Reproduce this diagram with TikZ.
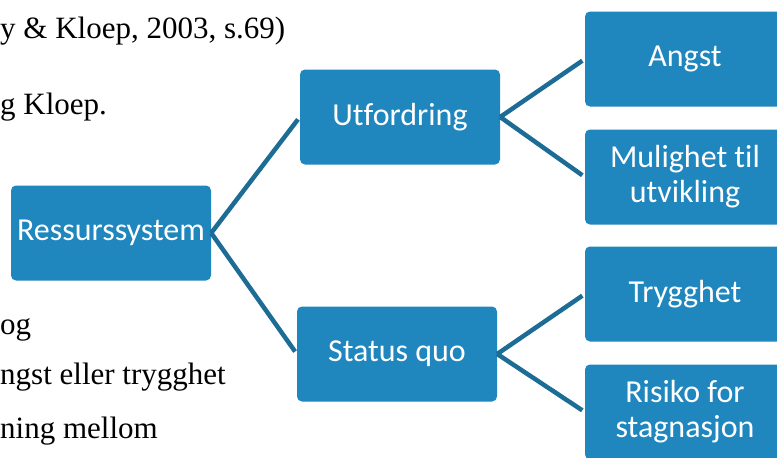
\documentclass[tikz,border=0pt]{standalone}
\usepackage{fontspec}
\setmainfont{Liberation Serif}
\newfontfamily\boxfont[Ligatures=NoCommon]{Carlito}
\definecolor{boxblue}{RGB}{32,134,190}
\definecolor{lineblue}{RGB}{28,108,150}
\tikzset{
  box/.style={rectangle, rounded corners=5pt, fill=boxblue, text=white,
    font=\boxfont\fontsize{32}{35}\selectfont, align=center,
    minimum width=200pt, minimum height=95pt, inner sep=0pt},
  pagetext/.style={anchor=base west, inner sep=0pt,
    font=\fontsize{31}{36}\selectfont},
  link/.style={draw=lineblue, line width=4.5pt, shorten >=3pt}
}
\begin{document}
\begin{tikzpicture}[x=1pt, y=-1pt]
      \useasboundingbox (0,0) rectangle (777,458);
      \clip (0,0) rectangle (777,458);
      \fill[white] (0,0) rectangle (777,458);
      % text of the page behind the diagram
      \node[pagetext] (line1) at (0,38) {y \& Kloep, 2003, s.69)};
      \node[pagetext] (line2) at (0,114) {g Kloep.};
      \node[pagetext] (line3) at (0,334) {og};
      \node[pagetext] (line4) at (0,384) {ngst eller trygghet};
      \node[pagetext] (line5) at (0,438) {ning mellom};
      % boxes
      \node[box] (res) at (111,233) {Ressurssystem};
      \node[box] (utf) at (400,117) {Utfordring};
      \node[box] (sq) at (397,354) {Status quo};
      \node[box] (angst) at (685,59) {Angst};
      \node[box] (mul) at (685,177) {Mulighet til\\utvikling};
      \node[box] (tryg) at (685,294) {Trygghet};
      \node[box] (risiko) at (685,412) {Risiko for\\stagnasjon};
      \begin{scope}[link]
        \draw (res.east) to (utf.west);
        \draw (res.east) to (sq.west);
        \draw (utf.east) to (angst.west);
        \draw (utf.east) to (mul.west);
        \draw (sq.east) to (tryg.west);
        \draw (sq.east) to (risiko.west);
      \end{scope}
    \end{tikzpicture}
\end{document}
